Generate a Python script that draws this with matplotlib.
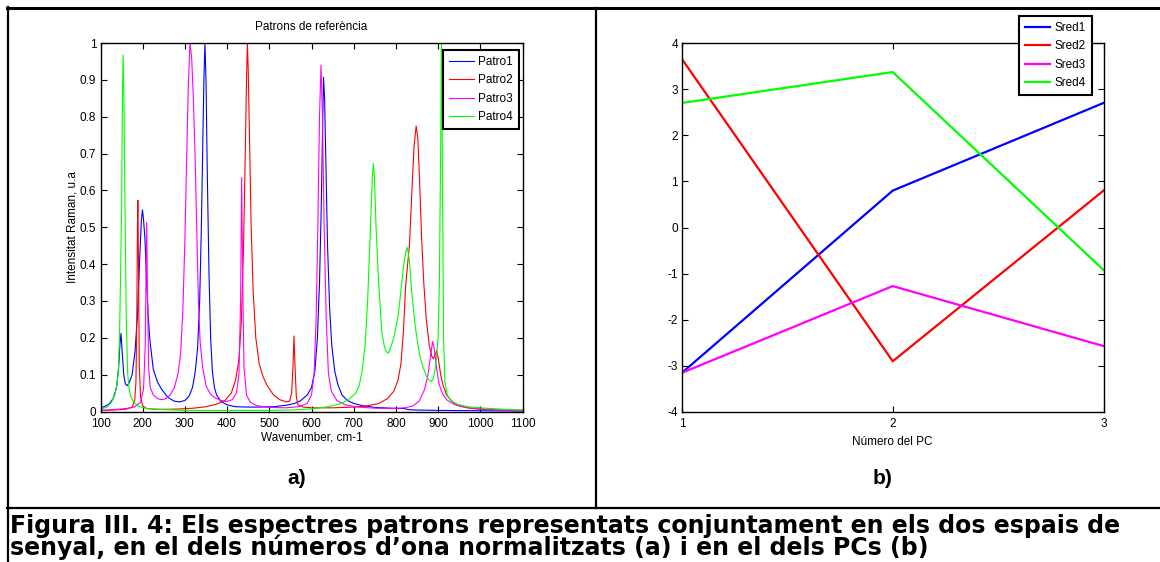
import matplotlib
matplotlib.use("Agg")
import matplotlib.pyplot as plt
from matplotlib.lines import Line2D

W, H = 1160, 562
FONT = ['Liberation Sans Narrow', 'Liberation Sans', 'DejaVu Sans']
plt.rcParams['font.family'] = FONT
plt.rcParams['axes.unicode_minus'] = False

# ---------------- data: panel a) ----------------
patro1_x = [100, 110, 120, 130, 138, 143, 146, 148.5, 151, 155, 159, 163, 168, 175, 182, 188, 193, 197, 199.5,
            202, 205.5, 209, 213, 217, 225, 235, 245, 260, 275, 288, 300, 310, 318, 324, 330, 335, 339, 342,
            345, 347.5, 350, 353, 357, 361, 365, 370, 375, 385, 400, 420, 450, 480, 510, 540, 560, 575, 590,
            600, 608, 614, 619, 623, 626, 628.5, 631, 634, 638, 643, 648, 655, 662, 672, 685, 700, 720, 750,
            790, 820, 830, 850, 900, 1000, 1100]
patro1_y = [0.010, 0.014, 0.020, 0.035, 0.065, 0.12, 0.18, 0.212, 0.17, 0.10, 0.075, 0.070, 0.078, 0.10, 0.165,
            0.27, 0.42, 0.52, 0.547, 0.52, 0.465, 0.36, 0.26, 0.194, 0.115, 0.080, 0.060, 0.038, 0.028, 0.026,
            0.030, 0.042, 0.065, 0.104, 0.17, 0.30, 0.50, 0.70, 0.90, 1.00, 0.90, 0.65, 0.38, 0.20, 0.11, 0.065,
            0.045, 0.028, 0.018, 0.013, 0.012, 0.012, 0.013, 0.017, 0.022, 0.030, 0.045, 0.065, 0.11, 0.20,
            0.35, 0.55, 0.75, 0.907, 0.85, 0.68, 0.45, 0.28, 0.18, 0.11, 0.075, 0.045, 0.030, 0.022, 0.016,
            0.011, 0.009, 0.008, 0.005, 0.004, 0.003, 0.002, 0.001]

patro2_x = [100, 130, 160, 175, 181, 184, 186, 187.5, 188.5, 190, 192, 195, 200, 210, 230, 260, 290, 320, 350,
            375, 395, 410, 420, 428, 434, 439, 443, 446, 448, 450, 453, 457, 462, 468, 476, 485, 495, 510, 525,
            540, 548, 553, 556, 558.5, 561, 564, 568, 580, 600, 650, 700, 730, 760, 780, 795, 805, 812, 818, 823,
            827, 832, 838, 843, 848, 852, 856, 861, 866, 872, 879, 885, 889, 893, 897, 901, 906, 912, 920, 935,
            950, 975, 1000, 1050, 1100]
patro2_y = [0.003, 0.004, 0.006, 0.012, 0.03, 0.08, 0.25, 0.50, 0.573, 0.40, 0.12, 0.04, 0.015, 0.008, 0.006,
            0.006, 0.007, 0.009, 0.013, 0.02, 0.030, 0.05, 0.085, 0.14, 0.25, 0.45, 0.70, 0.90, 1.00, 0.93, 0.75,
            0.50, 0.32, 0.20, 0.13, 0.095, 0.07, 0.045, 0.032, 0.026, 0.028, 0.05, 0.12, 0.205, 0.12, 0.04, 0.018,
            0.012, 0.010, 0.010, 0.012, 0.015, 0.022, 0.035, 0.055, 0.085, 0.13, 0.22, 0.34, 0.39, 0.45, 0.60,
            0.72, 0.775, 0.74, 0.63, 0.47, 0.35, 0.25, 0.18, 0.15, 0.143, 0.155, 0.165, 0.14, 0.10, 0.07, 0.045,
            0.025, 0.015, 0.009, 0.006, 0.004, 0.003]

patro3_x = [100, 130, 160, 180, 195, 202, 206, 208, 209.5, 211, 214, 218, 225, 235, 245, 255, 265, 275, 284, 290,
            295, 300, 304, 308, 312, 316, 320, 324, 328, 332, 336, 342, 350, 360, 370, 385, 399, 412, 422, 428,
            432, 434.5, 437, 440, 446, 455, 470, 500, 540, 570, 590, 600, 606, 611, 615, 619, 622.5, 626, 630,
            635, 640, 647, 660, 680, 710, 750, 790, 820, 840, 855, 868, 876, 882, 887, 891, 896, 902, 910, 920,
            940, 970, 1000, 1050, 1100]
patro3_y = [0.003, 0.005, 0.008, 0.012, 0.025, 0.06, 0.18, 0.38, 0.513, 0.35, 0.12, 0.065, 0.045, 0.035, 0.032,
            0.035, 0.045, 0.065, 0.104, 0.16, 0.27, 0.465, 0.68, 0.88, 1.00, 0.96, 0.85, 0.70, 0.50, 0.30, 0.19,
            0.12, 0.07, 0.048, 0.038, 0.030, 0.027, 0.032, 0.050, 0.10, 0.30, 0.635, 0.35, 0.12, 0.045, 0.025,
            0.016, 0.011, 0.010, 0.013, 0.022, 0.045, 0.10, 0.25, 0.50, 0.80, 0.940, 0.80, 0.50, 0.25, 0.104,
            0.055, 0.030, 0.018, 0.012, 0.009, 0.008, 0.010, 0.015, 0.028, 0.060, 0.10, 0.15, 0.19, 0.17, 0.12,
            0.075, 0.050, 0.032, 0.018, 0.010, 0.007, 0.004, 0.003]

patro4_x = [100, 115, 126, 134, 139, 142, 145, 148, 150, 152, 153.5, 155.5, 158, 161, 164.4, 168, 172, 178, 190,
            210, 250, 300, 400, 500, 550, 600, 640, 672, 690, 705, 713, 720, 727, 733, 739, 744, 746.5, 749, 753,
            758, 763, 766, 772, 777, 782, 788, 795, 801, 806, 812, 818, 823, 827, 832, 837, 841, 846, 851, 857,
            865, 873, 879, 884, 889, 895, 900, 903, 906, 908, 910, 913, 916, 922, 930, 945, 970, 1000, 1040, 1100]
patro4_y = [0.006, 0.012, 0.025, 0.045, 0.075, 0.104, 0.20, 0.40, 0.556, 0.85, 0.967, 0.85, 0.556, 0.25, 0.104,
            0.060, 0.040, 0.027, 0.014, 0.008, 0.005, 0.003, 0.003, 0.003, 0.004, 0.007, 0.013, 0.022, 0.035,
            0.050, 0.070, 0.11, 0.18, 0.30, 0.48, 0.63, 0.673, 0.64, 0.50, 0.375, 0.28, 0.221, 0.180, 0.163,
            0.158, 0.175, 0.20, 0.235, 0.266, 0.33, 0.393, 0.43, 0.445, 0.41, 0.33, 0.284, 0.23, 0.19, 0.149,
            0.118, 0.094, 0.085, 0.081, 0.090, 0.13, 0.20, 0.35, 0.70, 1.0, 0.70, 0.20, 0.08, 0.045, 0.030,
            0.020, 0.013, 0.010, 0.007, 0.004]

spectra_labels = ['Patro1', 'Patro2', 'Patro3', 'Patro4']
wn_ticks = [100, 200, 300, 400, 500, 600, 700, 800, 900, 1000, 1100]
int_ticks = [0, 0.1, 0.2, 0.3, 0.4, 0.5, 0.6, 0.7, 0.8, 0.9, 1]
int_ticklabels = ['0', '0.1', '0.2', '0.3', '0.4', '0.5', '0.6', '0.7', '0.8', '0.9', '1']

# ---------------- data: panel b) ----------------
pc_number = [1, 2, 3]
sred1 = [-3.15, 0.80, 2.70]
sred2 = [3.65, -2.90, 0.80]
sred3 = [-3.15, -1.27, -2.57]
sred4 = [2.70, 3.37, -0.92]
sred_labels = ['Sred1', 'Sred2', 'Sred3', 'Sred4']
pc_yticks = [-4, -3, -2, -1, 0, 1, 2, 3, 4]

colors = ['#0000ff', '#ff0000', '#ff00ff', '#00ff00']

fig = plt.figure(figsize=(W / 100, H / 100), dpi=100)
fig.patch.set_facecolor('white')


def fx(px):
    return px / W


def fy(py):
    return 1 - py / H


def style_axes(ax):
    ax.tick_params(direction='in', top=True, right=True, length=4, width=0.8,
                   labelsize=8.5, pad=3, colors='black')
    ax.tick_params(axis='x', pad=4.5)
    for s in ax.spines.values():
        s.set_linewidth(1.0)
        s.set_color('black')


# ---- panel a ----
axL = fig.add_axes([fx(100.5), fy(411.5), (522.5 - 100.5) / W, (411.5 - 43) / H])
for xs, ys, c, lab in zip([patro1_x, patro2_x, patro3_x, patro4_x],
                          [patro1_y, patro2_y, patro3_y, patro4_y], colors, spectra_labels):
    axL.plot(xs, ys, color=c, lw=0.8, label=lab)
axL.set_xlim(100, 1100)
axL.set_ylim(0, 1)
axL.set_xticks(wn_ticks)
axL.set_yticks(int_ticks)
axL.set_yticklabels(int_ticklabels)
style_axes(axL)
axL.set_title('Patrons de referència', fontsize=8.5, pad=9)
axL.set_xlabel('Wavenumber, cm-1', fontsize=8.5, labelpad=1)
axL.set_ylabel('Intensitat Raman, u.a', fontsize=8.5, labelpad=1)
legL = axL.legend(loc='upper right', bbox_to_anchor=(fx(519), fy(50)), bbox_transform=fig.transFigure,
                  borderaxespad=0, fancybox=False, framealpha=1, edgecolor='black', fontsize=8.5,
                  handlelength=2.1, handletextpad=0.4, labelspacing=0.55, borderpad=0.5)
legL.get_frame().set_linewidth(1.5)

# ---- panel b ----
axR = fig.add_axes([fx(682), fy(412), (1103.5 - 682) / W, (412 - 43) / H])
for ys, c, lab in zip([sred1, sred2, sred3, sred4], colors, sred_labels):
    axR.plot(pc_number, ys, color=c, lw=1.6, label=lab)
axR.set_xlim(1, 3)
axR.set_ylim(-4, 4)
axR.set_xticks(pc_number)
axR.set_yticks(pc_yticks)
style_axes(axR)
axR.set_xlabel('Número del PC', fontsize=8.5, labelpad=4)
legR = axR.legend(loc='upper right', bbox_to_anchor=(fx(1092), fy(16)), bbox_transform=fig.transFigure,
                  borderaxespad=0, fancybox=False, framealpha=1, edgecolor='black', fontsize=8.5,
                  handlelength=2.1, handletextpad=0.4, labelspacing=0.55, borderpad=0.5)
legR.get_frame().set_linewidth(1.5)

# ---- panel letters ----
fig.text(fx(297), fy(478), 'a)', ha='center', va='center', fontsize=15, fontweight='bold',
         family=['Liberation Sans', 'DejaVu Sans'])
fig.text(fx(883), fy(478), 'b)', ha='center', va='center', fontsize=15, fontweight='bold',
         family=['Liberation Sans', 'DejaVu Sans'])

# ---- table borders ----
def hline(y, x0, x1, lw):
    fig.add_artist(Line2D([fx(x0), fx(x1)], [fy(y), fy(y)], transform=fig.transFigure, color='black', lw=lw))


def vline(x, y0, y1, lw):
    fig.add_artist(Line2D([fx(x), fx(x)], [fy(y0), fy(y1)], transform=fig.transFigure, color='black', lw=lw))


hline(8, 7, 1160, 2.2)
hline(508, 7, 1160, 1.6)
vline(8, 7, 562, 1.6)
vline(595.5, 8, 508, 1.6)

# ---- caption ----
fig.text(fx(10), fy(532.5), 'Figura III. 4: Els espectres patrons representats conjuntament en els dos espais de',
         ha='left', va='baseline', fontsize=17, fontweight='bold', family=['DejaVu Sans'])
fig.text(fx(10), fy(555.5), 'senyal, en el dels números d\u2019ona normalitzats (a) i en el dels PCs (b)',
         ha='left', va='baseline', fontsize=17, fontweight='bold', family=['DejaVu Sans'])

fig.savefig('out.png', dpi=100)
